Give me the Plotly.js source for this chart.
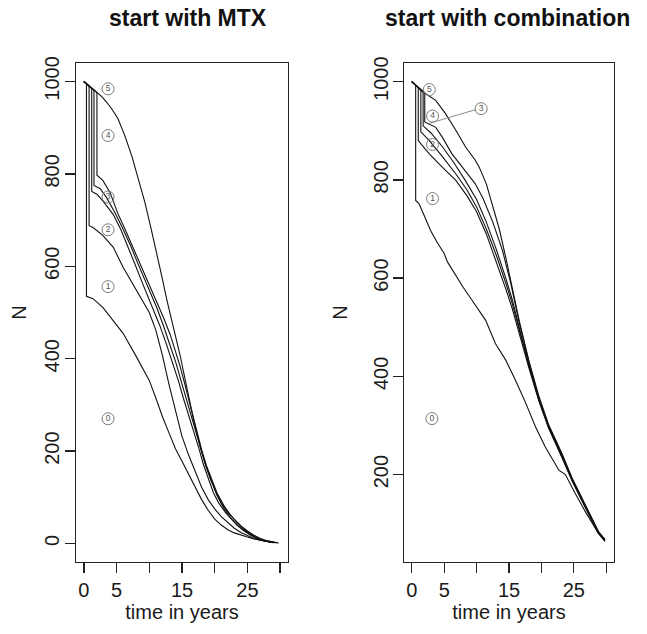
<!DOCTYPE html>
<html>
<head>
<meta charset="utf-8">
<script src="https://cdn.plot.ly/plotly-3.0.1.min.js"></script>
<style>html,body{margin:0;padding:0;background:#fff;}#chart{width:647px;height:634px;}</style>
</head>
<body>
<div id="chart"></div>
<script>
// ---------- data: start with MTX ----------
var mtxT0 = [0,0.4,0.4,1.4,2.9,4.5,6,8,10,11,12,13,14,15,16,17,18,19,20,21,22,23,24,25,26,27,28,29];
var mtxN0 = [1000,995,535,530,511,483,455,405,353,315,275,240,205,178,150,122,95,72,53,40,30,23,18,14,10,7,4,2];
var mtxT1 = [0,0.4,0.8,0.8,1.4,2.9,4.5,6,7.5,9.3,10,11,12,13,14,15,16,17,18,19,20,21,22,23,24,25,26,27,28,29];
var mtxN1 = [1000,995,990,688,684,667,641,598,562,519,500,462,408,345,285,232,192,155,122,95,75,58,45,33,24,17,11,7,4,2];
var mtxT2 = [0,0.4,0.8,1.2,1.2,2.0,3.0,4.5,5.7,6.8,7.8,8.8,9.8,10.6,11.6,12.6,13.7,14.5,15.2,16,16.8,17.6,18.3,19,19.8,20.6,21.6,22.6,23.6,24.6,25.6,26.6,27.6,28.6];
var mtxN2 = [1000,995,990,985,762,756,740,712,678,641,605,569,535,508,472,432,385,350,315,280,240,205,170,140,110,88,68,52,38,27,18,11,6,3];
var mtxT3 = [0,0.4,0.8,1.2,1.55,1.55,2.5,3.5,4.8,6,7.2,8.2,9.2,10.2,11.1,12.1,13.1,14.1,14.9,15.6,16.4,17.1,17.9,18.6,19.4,20.2,21,22,23,24,25,26,27,28,29];
var mtxN3 = [1000,995,990,985,981,775,768,748,715,680,643,608,575,542,512,474,432,390,350,315,278,240,205,170,138,110,88,68,52,38,27,18,11,6,3];
var mtxT4 = [0,0.4,0.8,1.2,1.55,2.0,2.0,2.9,4,5.2,6.3,7.5,8.5,9.6,10.5,11.2,12.2,13.2,14,14.7,15.3,16,16.6,17.3,18,18.8,19.6,20.4,21.4,22.4,23.4,24.4,25.5,26.5,27.5,28.5,29.5];
var mtxN4 = [1000,995,990,985,981,976,797,786,760,714,680,641,610,576,547,522,488,452,418,384,352,312,278,240,203,166,135,108,82,62,46,32,20,12,7,4,2];
var mtxT5 = [0,0.4,0.8,1.2,1.55,2.0,2.7,3.5,4.3,5.2,6.2,7.3,8.3,9.3,10.3,11.3,12,12.7,13.7,14.7,15.7,16.8,17.8,18.6,19.3,20.4,21.4,22.4,23.4,24.4,25.5,26.5,27.5,28.5,29.8];
var mtxN5 = [1000,995,990,985,981,976,968,955,940,920,885,840,792,740,680,620,573,526,470,408,340,266,208,170,143,103,76,56,40,28,18,11,6,3,1];

// ---------- data: start with combination ----------
var comT0 = [0,0.6,0.6,1.1,1.9,2.9,3.9,5,5.5,7,8,9.3,11.4,12.9,14.5,16,17.6,19.1,20.6,22.7,23.7,25.2,26.8,28.8,29.8];
var comN0 = [1000,993,758,752,728,697,673,650,633,600,580,555,514,467,433,392,345,297,256,209,200,162,124,80,66];
var comT1 = [0,0.6,1.0,1.0,2.7,4.7,6.8,8.5,10,11.5,13,14.5,15.5,16.6,18.1,19.6,21.1,23.2,24.7,26.8,28.8,29.8];
var comN1 = [1000,993,988,880,853,826,799,768,735,690,636,578,538,486,416,350,295,234,188,132,80,64];
var comT2 = [0,0.6,1.0,1.4,1.4,2.7,4.7,6.8,8.5,10,11.5,13,14.5,15.5,16.6,18.1,19.6,21.1,23.2,24.7,26.8,28.8,29.8];
var comN2 = [1000,993,988,983,898,880,848,812,780,745,700,648,590,548,494,424,352,297,236,190,134,82,65];
var comT3 = [0,0.6,1.0,1.4,1.75,1.75,3,4.7,6.5,8.2,10,11.5,13,14.5,15.5,16.6,18.1,19.6,21.1,23.2,24.7,26.8,28.8,29.8];
var comN3 = [1000,993,988,983,979,910,895,868,835,800,760,714,660,600,556,498,420,354,298,238,191,135,82,66];
var comT4 = [0,0.6,1.0,1.4,1.75,2.0,2.0,3.7,4.7,6.2,7.8,9.8,11,12.5,14,15.3,16.6,18.1,19.6,21.1,23.2,24.7,26.8,28.8,29.8];
var comN4 = [1000,993,988,983,979,976,918,907,887,853,826,792,762,714,656,588,508,428,356,300,240,192,136,83,67];
var comT5 = [0,0.6,1.0,1.4,1.75,2.2,3.7,5.2,6.8,8.3,9.8,10.4,11.5,12.5,13.5,14.5,15.3,16.6,18.1,19.6,21.1,23.2,24.7,26.8,28.8,29.8];
var comN5 = [1000,993,988,983,979,975,962,935,901,867,840,826,792,748,700,642,592,512,430,360,302,242,194,138,84,68];

// ---------- region labels ----------
var labelText = ["0","1","2","3","4","5"];
var mtxLabelT = [3.7,3.7,3.7,3.7,3.7,3.7];
var mtxLabelN = [270,556,679,750,883,984];
var comLabelT = [3.1,3.2,3.2,10.7,3.2,2.7];
var comLabelN = [314,762,872,945,930,984];
var leaderT = [2.66, 9.85];
var leaderN = [915, 943];

// ---------- axes ----------
var xTickVals = [0,5,10,15,20,25,30];
var xTickText = ["0","5","","15","","25",""];
var yTickVals = [0,200,400,600,800,1000];

var lineStyle = {color:"#111", width:1.1};
var traces = [];
[[mtxT0,mtxN0],[mtxT1,mtxN1],[mtxT2,mtxN2],[mtxT3,mtxN3],[mtxT4,mtxN4],[mtxT5,mtxN5]].forEach(function(c){
  traces.push({x:c[0], y:c[1], type:"scatter", mode:"lines", line:lineStyle, xaxis:"x", yaxis:"y", hoverinfo:"skip"});
});
[[comT0,comN0],[comT1,comN1],[comT2,comN2],[comT3,comN3],[comT4,comN4],[comT5,comN5]].forEach(function(c){
  traces.push({x:c[0], y:c[1], type:"scatter", mode:"lines", line:lineStyle, xaxis:"x2", yaxis:"y2", hoverinfo:"skip"});
});
var lblMarker = {symbol:"circle-open", size:12, color:"#7a7a7a", line:{width:1}};
var lblFont = {size:8.5, color:"#555", family:"Liberation Sans, Arial, sans-serif"};
traces.push({x:mtxLabelT, y:mtxLabelN, text:labelText, type:"scatter", mode:"markers+text", textposition:"middle center", marker:lblMarker, textfont:lblFont, xaxis:"x", yaxis:"y", hoverinfo:"skip"});
traces.push({x:comLabelT, y:comLabelN, text:labelText, type:"scatter", mode:"markers+text", textposition:"middle center", marker:lblMarker, textfont:lblFont, xaxis:"x2", yaxis:"y2", hoverinfo:"skip"});
traces.push({x:leaderT, y:leaderN, type:"scatter", mode:"lines", line:{color:"#8a8a8a", width:1}, xaxis:"x2", yaxis:"y2", hoverinfo:"skip"});

var W = 647, H = 634;
var yDom = [(H-562)/H, (H-63)/H];
function xAx(dom, anchor){
  return {domain:dom, anchor:anchor, range:[-1.2,31.2], showline:true, mirror:true, linecolor:"#222", linewidth:1.2,
    ticks:"outside", ticklen:10, tickwidth:1.3, tickcolor:"#222", tickvals:xTickVals, ticktext:xTickText,
    tickfont:{size:20, color:"#1a1a1a"}, showgrid:false, zeroline:false,
    title:{text:"time in years", font:{size:20, color:"#1a1a1a"}, standoff:2}};
}
function yAx(range, anchor, standoffLbl, standoffTitle){
  return {domain:yDom, anchor:anchor, range:range, showline:true, mirror:true, linecolor:"#222", linewidth:1.2,
    ticks:"outside", ticklen:10, tickwidth:1.3, tickcolor:"#222", tickvals:yTickVals, tickangle:-90,
    ticklabelstandoff:standoffLbl,
    tickfont:{size:20, color:"#1a1a1a"}, showgrid:false, zeroline:false,
    title:{text:"N", font:{size:20, color:"#1a1a1a"}, standoff:standoffTitle}};
}
var layout = {
  width:W, height:H, margin:{l:0,r:0,t:0,b:0}, showlegend:false,
  paper_bgcolor:"#fff", plot_bgcolor:"#fff",
  font:{family:"Liberation Sans, Arial, sans-serif", color:"#1a1a1a"},
  xaxis: xAx([76/W, 288/W], "y"),
  yaxis: yAx([-40,1040], "x", -2, 8),
  xaxis2: xAx([404/W, 614/W], "y2"),
  yaxis2: yAx([22,1038], "x2", -3, 16),
  annotations:[
    {text:"<b>start with MTX</b>", xref:"paper", yref:"paper", x:188/W, y:(H-18)/H, xanchor:"center", yanchor:"middle", showarrow:false, font:{size:23, color:"#111"}},
    {text:"<b>start with combination</b>", xref:"paper", yref:"paper", x:507/W, y:(H-18)/H, xanchor:"center", yanchor:"middle", showarrow:false, font:{size:23, color:"#111"}}
  ]
};
Plotly.newPlot("chart", traces, layout, {staticPlot:true, displayModeBar:false});
</script>
</body>
</html>
